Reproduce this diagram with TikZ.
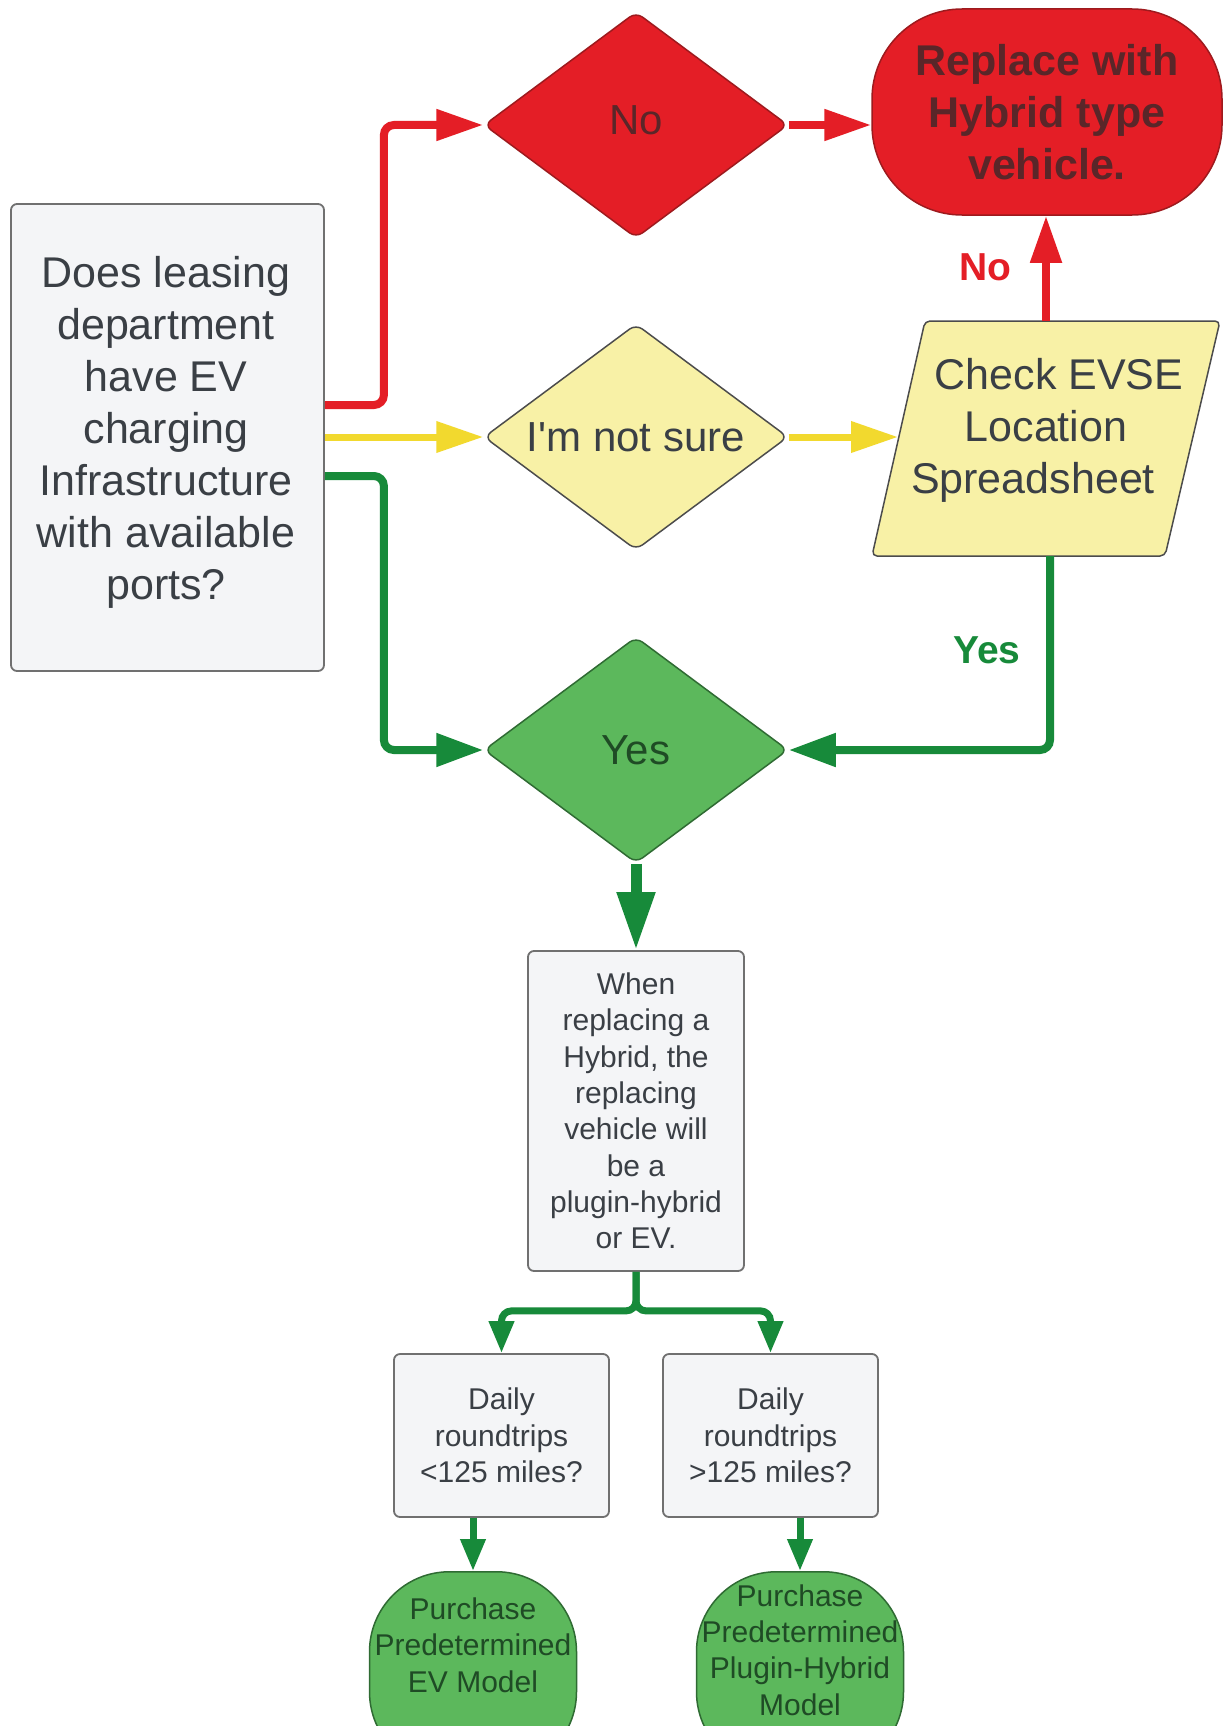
\documentclass[tikz,border=0pt]{standalone}
\usepackage{fontspec}
\setmainfont{Liberation Sans}
\usetikzlibrary{arrows.meta,shapes.geometric}
\definecolor{cred}{HTML}{E41E26}
\definecolor{credd}{HTML}{9E1A1E}
\definecolor{cyel}{HTML}{F8F1A6}
\definecolor{cyelline}{HTML}{F2D92E}
\definecolor{cgreen}{HTML}{5CB85C}
\definecolor{cgreend}{HTML}{2F6B33}
\definecolor{cgline}{HTML}{178A3A}
\definecolor{boxfill}{HTML}{F4F5F7}
\definecolor{boxline}{HTML}{707070}
\definecolor{txt}{HTML}{3A3F45}
\definecolor{gtxt}{HTML}{1F4B25}
\definecolor{rtxt}{HTML}{5A2629}
\begin{document}
\begin{tikzpicture}[x=1pt,y=-1pt,
  graybox/.style={draw=boxline, fill=boxfill, rounded corners=6pt, line width=1.8pt, text=txt, align=center, inner sep=0pt},
  dia/.style={diamond, shape aspect=1.345, rounded corners=8pt, line width=1.5pt, minimum width=304pt, minimum height=226pt, inner sep=0pt, align=center, font=\fontsize{42}{50}\selectfont},
  bigfont/.style={font=\fontsize{43}{52}\selectfont},
  smallfont/.style={font=\fontsize{30}{36.3}\selectfont},
  redarrow/.style={draw=cred, line width=8pt, rounded corners=10pt, -{Triangle[length=47pt,width=30pt]}},
  yelarrow/.style={draw=cyelline, line width=7pt, -{Triangle[length=47pt,width=30pt]}},
  grnarrow/.style={draw=cgline, line width=8pt, rounded corners=10pt, -{Triangle[length=47pt,width=32pt]}},
  grnsmall/.style={draw=cgline, line width=7pt, rounded corners=10pt, -{Triangle[length=32pt,width=24pt]}},
  purch/.style={draw=cgreend, fill=cgreen, line width=1.5pt, rounded corners=80pt, minimum width=207pt, minimum height=200pt, inner sep=0pt, anchor=north},
  lbl/.style={font=\bfseries\fontsize{39}{46}\selectfont, inner sep=0pt}
]
\useasboundingbox (0,0) rectangle (1223,1726);
\fill[white] (0,0) rectangle (1223,1726);

% left question box
\node[graybox, minimum width=313pt, minimum height=467pt] (q) at (167.5,437.5) {};
\node[bigfont, text=txt, align=center, inner sep=0pt] (qt) at (166,432)
  {Does leasing\\department\\have EV\\charging\\Infrastructure\\with available\\ports?};

% diamonds
\node[dia, draw=credd, fill=cred, text=rtxt] (nod) at (636,125) {\raisebox{10pt}{No}};
\node[dia, draw=black!70, fill=cyel, text=txt] (unsure) at (636,437) {I\textquotesingle m not sure};
\node[dia, draw=cgreend, fill=cgreen, text=gtxt] (yes) at (636,750) {Yes};

% replace terminal
\node[draw=credd, fill=cred, line width=1.5pt, rounded corners=90pt, minimum width=350pt, minimum height=206pt, inner sep=0pt, align=center, text=rtxt, font=\bfseries\fontsize{43}{52}\selectfont] (rep) at (1047,112) {Replace with\\Hybrid type\\vehicle.};

% parallelogram
\draw[draw=black!70, fill=cyel, line width=1.5pt, rounded corners=5pt] (925,321) -- (1220,321) -- (1165,556) -- (872,556) -- cycle;
\node[bigfont, text=txt, align=center, inner sep=0pt] (evse) at (1046,430) {\hspace*{26pt}Check EVSE\\Location\\Spreadsheet\hspace*{26pt}};
\coordinate (evseN) at (1046,321);
\coordinate (evseS) at (1050,556);
\coordinate (evseW) at (898,437);

% when box
\node[graybox, smallfont, minimum width=216pt, minimum height=320pt] (when) at (636,1111)
  {When\\replacing a\\Hybrid, the\\replacing\\vehicle will\\be a\\plugin-hybrid\\or EV.};

% daily boxes
\node[graybox, smallfont, minimum width=215pt, minimum height=163pt] (d1) at (501.5,1435.5) {Daily\\roundtrips\\<125 miles?};
\node[graybox, smallfont, minimum width=215pt, minimum height=163pt] (d2) at (770.5,1435.5) {Daily\\roundtrips\\>125 miles?};

% purchase terminals
\node[purch] (ev) at (473,1571) {};
\node[smallfont, text=gtxt, align=center, inner sep=0pt] (evt) at (473,1645) {Purchase\\Predetermined\\EV Model};
\node[purch] (ph) at (800,1571) {};
\node[smallfont, text=gtxt, align=center, inner sep=0pt] (pht) at (800,1650) {Purchase\\Predetermined\\Plugin-Hybrid\\Model};

% connectors
\draw[redarrow] ([yshift=32.5pt]q.east) -- ++(59,0) |- (nod.west);
\draw[redarrow] (nod.east) -- (nod.east -| rep.west);
\draw[yelarrow] (q.east |- unsure.west) -- (unsure.west);
\draw[yelarrow] (unsure.east) -- (evseW);
\draw[grnarrow] ([yshift=-38.5pt]q.east) -- ++(59,0) |- (yes.west);
\draw[redarrow] (evseN) -- (evseN |- rep.south);
\draw[grnarrow] (evseS) |- (yes.east);
\draw[draw=cgline, line width=11pt, -{Triangle[length=58pt,width=36pt]}] (yes.south) -- (when.north);
\draw[grnsmall] (when.south) -- ++(0,39) -| (d1.north);
\draw[grnsmall] (when.south) -- ++(0,39) -| (d2.north);
\draw[grnsmall] (ev.north |- d1.south) -- (ev.north);
\draw[grnsmall] (ph.north |- d2.south) -- (ph.north);

% labels
\node[lbl, text=cred] (lno) at (985,267) {No};
\node[lbl, text=cgline] (lyes) at (987,650) {Yes};
\end{tikzpicture}
\end{document}
